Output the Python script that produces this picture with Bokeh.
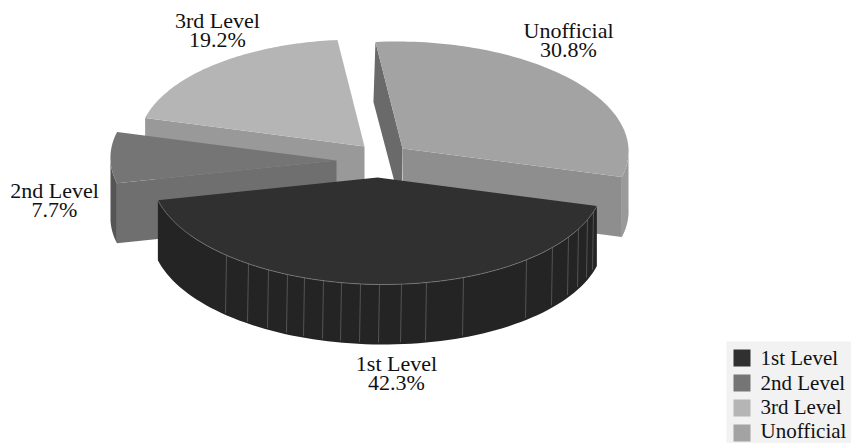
import numpy as np
from bokeh.embed import file_html
from bokeh.models import Range1d
from bokeh.plotting import figure
from bokeh.resources import INLINE
from bokeh.core.properties import value

# Chart values
levels = ["1st Level", "2nd Level", "3rd Level", "Unofficial"]
shares = [42.3, 7.7, 19.2, 30.8]

# Colours per slice: top surface, cut wall, outer rim, far cut wall
top_colors = ["#303030", "#757575", "#b5b5b5", "#a3a3a3"]
wall_colors = ["#242424", "#6f6f6f", "#999999", "#8e8e8e"]
rim_colors = ["#242424", "#555555", "#999999", "#9a9a9a"]
side_colors = [None, None, None, "#6a6a6a"]

# Projection of the exploded pie, in page pixels
centers = [(377, 177), (336, 160), (364, 146), (402, 148)]
RX, RY, DEPTH, SHEAR = 226, 107, 60, 0.055
START_DEG = 15.5

# Which cut edge of each slice shows a wall, and the rim span that faces the viewer
wall_edge = [None, 0, 0, 1]
rim_span = [(0, 1), (0, 180), None, (360, 1)]

# Label anchors, legend rows and the rim facet seams of the front slice
label_pos = [(396, 363), (54, 190), (217, 20), (568, 30)]
legend_rows = [349, 374, 399, 424]
legend_text_y = [357, 382, 406, 430]
seam_x = [226, 248, 268, 287, 304, 323, 341, 360, 379, 401, 426, 463, 526, 552, 568, 578, 587, 593]

W, H = 851, 443
p = figure(width=W, height=H, output_backend="svg", toolbar_location=None,
           x_range=Range1d(0, W), y_range=Range1d(H, 0),
           min_border=0, outline_line_color=None)
p.axis.visible = False
p.grid.visible = False
p.background_fill_color = "white"
p.border_fill_color = "white"


def rim_point(c, deg, drop=0.0):
    t = np.radians(deg)
    dy = RY * np.sin(t)
    return c[0] + RX * np.cos(t) + SHEAR * dy, c[1] + dy + drop


def arc(c, a, b, drop=0.0, n=80):
    return rim_point(c, np.linspace(a, b, n), drop)


edges = np.concatenate([[0], np.cumsum(shares)]) / sum(shares) * 360 + START_DEG

# Back slices first, the front slice last
for i in [3, 2, 1, 0]:
    c = centers[i]
    a, b = edges[i], edges[i + 1]

    # far cut wall, seen only on the slice that opens towards the left
    if side_colors[i]:
        ex, ey = rim_point(c, a if a % 360 > 180 else b)
        p.patch([ex, c[0], c[0] - 1, ex - 2], [ey, c[1], c[1] + DEPTH, ey + DEPTH],
                fill_color=side_colors[i], line_color=None)

    # near cut wall
    if wall_edge[i] is not None:
        ex, ey = rim_point(c, (a, b)[wall_edge[i]])
        p.patch([c[0], ex, ex, c[0]], [c[1], ey, ey + DEPTH, c[1] + DEPTH],
                fill_color=wall_colors[i], line_color=None)

    # outer rim where it faces the viewer
    if rim_span[i] is not None:
        lo, hi = rim_span[i]
        lo = a if lo == 0 else lo
        hi = b if hi == 1 else hi
        x1, y1 = arc(c, lo, hi)
        x2, y2 = arc(c, hi, lo, DEPTH)
        p.patch(np.concatenate([x1, x2]), np.concatenate([y1, y2]),
                fill_color=rim_colors[i], line_color=None)

    # top surface
    xs, ys = arc(c, a, b)
    p.patch(np.concatenate([[c[0]], xs]), np.concatenate([[c[1]], ys]),
            fill_color=top_colors[i], line_color=None)

# Facet seams and light edge on the front slice rim
c = centers[0]
ax, ay = arc(c, edges[0], edges[1], n=200)
sx = np.array(seam_x, dtype=float)
sy = np.interp(sx, ax[::-1], ay[::-1])
p.segment(sx, sy, sx - 1, sy + DEPTH - 2, line_color="#5f5f5f", line_width=0.8)
p.line(ax, ay, line_color="#7f7f7f", line_width=0.7)

# Slice labels
font = value("Liberation Serif")
for name, share, (lx, ly) in zip(levels, shares, label_pos):
    p.text([lx], [ly], text=[name], text_font=font, text_font_size="22px",
           text_align="center", text_baseline="middle", text_color="#111111")
    p.text([lx], [ly + 19], text=[f"{share}%"], text_font=font, text_font_size="22px",
           text_align="center", text_baseline="middle", text_color="#111111")

# Legend box
p.quad(left=[726], right=[851], top=[341], bottom=[443], fill_color="#f2f2f2", line_color=None)
p.quad(left=[733] * 4, right=[750] * 4, top=legend_rows, bottom=[r + 17 for r in legend_rows],
       fill_color=top_colors, line_color=None)
p.text([760] * 4, legend_text_y, text=levels, text_font=font, text_font_size="21px",
       text_align="left", text_baseline="middle", text_color="#111111")

open("out.html", "w").write(file_html(p, INLINE))
